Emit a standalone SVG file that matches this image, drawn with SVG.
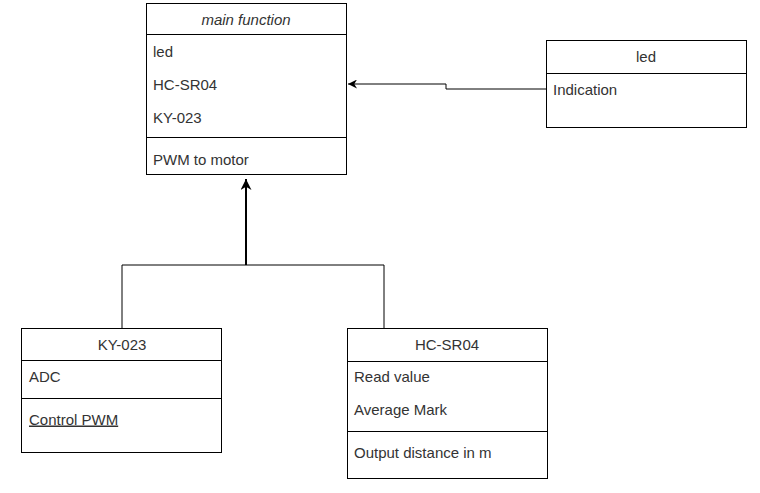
<svg xmlns="http://www.w3.org/2000/svg" width="760" height="493" viewBox="0 0 760 493">
<defs>
<style>
.box{fill:#fff;stroke:#000;stroke-width:1}
.div{stroke:#000;stroke-width:1;fill:none}
.t{font-family:"Liberation Sans",Arial,sans-serif;font-size:15px;fill:#333}
.c{text-anchor:middle}
.conn{fill:none;stroke:#000;stroke-width:1}
</style>
<marker id="arr" markerUnits="userSpaceOnUse" markerWidth="10" markerHeight="9" viewBox="0 0 10 10" refX="10" refY="5" orient="auto">
<path d="M0,0 L10,5 L0,10 L3,5 Z" fill="#000"/>
</marker>
<marker id="arr2" markerUnits="userSpaceOnUse" markerWidth="11" markerHeight="11" viewBox="0 0 10 10" refX="10" refY="5" orient="auto">
<path d="M0,0 L10,5 L0,10 L3,5 Z" fill="#000"/>
</marker>
</defs>
<rect width="760" height="493" fill="#fff"/>
<g id="connectors">
<path class="conn" d="M546,89 H446 V84 H348" marker-end="url(#arr)"/>
<path class="conn" d="M122,328 V265 H384 V328"/>
<path class="conn" style="stroke-width:2" d="M246,265 V179" marker-end="url(#arr2)"/>
</g>
<g id="main">
<rect class="box" x="146.5" y="3.5" width="200" height="171"/>
<line class="div" x1="146.5" y1="34.5" x2="346.5" y2="34.5"/>
<line class="div" x1="146.5" y1="137.5" x2="346.5" y2="137.5"/>
<text class="t c" x="246" y="25" font-style="italic">main function</text>
<text class="t" x="153" y="57">led</text>
<text class="t" x="153" y="90">HC-SR04</text>
<text class="t" x="153" y="123">KY-023</text>
<text class="t" x="153" y="165">PWM to motor</text>
</g>
<g id="led">
<rect class="box" x="546.5" y="40.5" width="200" height="87"/>
<line class="div" x1="546.5" y1="73.5" x2="746.5" y2="73.5"/>
<text class="t c" x="646" y="62">led</text>
<text class="t" x="553" y="95">Indication</text>
</g>
<g id="ky023">
<rect class="box" x="21.5" y="328.5" width="200" height="124"/>
<line class="div" x1="21.5" y1="360.5" x2="221.5" y2="360.5"/>
<line class="div" x1="21.5" y1="398.5" x2="221.5" y2="398.5"/>
<text class="t c" x="122" y="350">KY-023</text>
<text class="t" x="29" y="382">ADC</text>
<text class="t" x="29" y="424.5" text-decoration="underline">Control PWM</text>
</g>
<g id="hcsr04">
<rect class="box" x="347.5" y="328.5" width="200" height="150"/>
<line class="div" x1="347.5" y1="361.5" x2="547.5" y2="361.5"/>
<line class="div" x1="347.5" y1="431.5" x2="547.5" y2="431.5"/>
<text class="t c" x="447" y="350">HC-SR04</text>
<text class="t" x="354" y="382">Read value</text>
<text class="t" x="354" y="415">Average Mark</text>
<text class="t" x="354" y="458">Output distance in m</text>
</g>
</svg>
